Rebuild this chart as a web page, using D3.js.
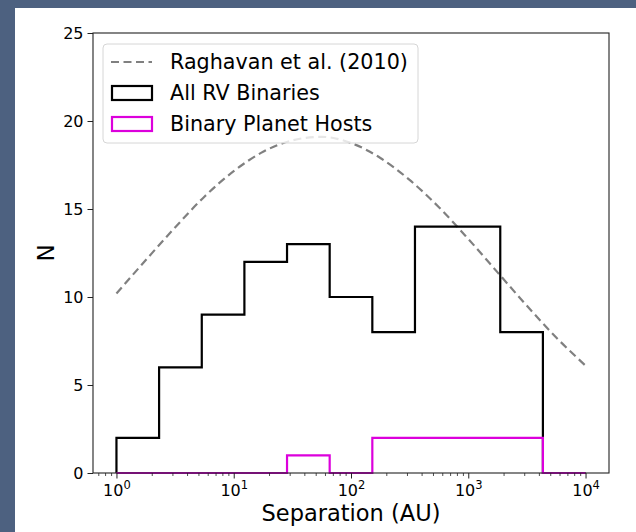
<!DOCTYPE html>
<html>
<head>
<meta charset="utf-8">
<script src="https://cdn.jsdelivr.net/npm/d3@7"></script>
<style>
  html, body { margin: 0; padding: 0; background: #4d6180; }
  svg { display: block; }
  text { font-family: "DejaVu Sans", sans-serif; fill: #000; }
</style>
</head>
<body>
<svg id="chart" width="636" height="532"></svg>
<script>
// Histogram bin edges in AU (log-spaced, 11 bins from 1 to 10^4 AU)
const sepEdges = [1, 2.31, 5.34, 12.33, 28.48, 65.79, 152.0, 351.1, 811.1, 1874, 4329, 10000];
// Counts per bin
const rvCounts = [2, 6, 9, 12, 13, 10, 8, 14, 14, 8, 0];
const hostCounts = [0, 0, 0, 0, 1, 0, 2, 2, 2, 2, 0];
// Raghavan et al. (2010) separation distribution, scaled
const raghavanSep = [1, 1.78, 3.16, 5.62, 10, 17.8, 31.6, 56.2, 100, 178, 316, 562, 1000, 1778, 3162, 5623, 10000];
const raghavanN = [10.2, 12.1, 13.95, 15.7, 17.15, 18.25, 18.9, 19.1, 18.75, 17.9, 16.65, 15.1, 13.3, 11.4, 9.5, 7.7, 6.1];
// Axis ticks
const yTicks = [0, 5, 10, 15, 20, 25];
const xTickExponents = [0, 1, 2, 3, 4];
const legendLabels = ["Raghavan et al. (2010)", "All RV Binaries", "Binary Planet Hosts"];

const colors = { rv: "#000000", host: "#dc00dc", curve: "#808080" };

const svg = d3.select("#chart");

// white figure area
svg.append("rect").attr("x", 15).attr("y", 8).attr("width", 621).attr("height", 524).attr("fill", "#ffffff");

const plot = { left: 93, right: 609, top: 33, bottom: 473 };

const x = d3.scaleLog().domain([Math.pow(10, -0.2), Math.pow(10, 4.2)]).range([plot.left, plot.right]);
const y = d3.scaleLinear().domain([0, 25]).range([plot.bottom, plot.top]);

// minor ticks on the log axis
const minorTicks = [];
for (let k = -1; k <= 4; k++) {
  for (let m = 2; m <= 9; m++) {
    const v = m * Math.pow(10, k);
    if (v >= x.domain()[0] && v <= x.domain()[1]) minorTicks.push(v);
  }
}

// dashed reference curve
const curveLine = d3.line()
  .x((d, i) => x(raghavanSep[i]))
  .y(d => y(d))
  .curve(d3.curveMonotoneX);

svg.append("path")
  .attr("d", curveLine(raghavanN))
  .attr("fill", "none")
  .attr("stroke", colors.curve)
  .attr("stroke-width", 2.2)
  .attr("stroke-dasharray", "8,4.5");

// step outline for a histogram
function stepPoints(edges, counts) {
  const pts = [[edges[0], 0]];
  counts.forEach((c, i) => {
    pts.push([edges[i], c]);
    pts.push([edges[i + 1], c]);
  });
  pts.push([edges[edges.length - 1], 0]);
  return pts;
}
const stepLine = d3.line().x(d => x(d[0])).y(d => y(d[1]));

svg.append("path")
  .attr("d", stepLine(stepPoints(sepEdges, rvCounts)))
  .attr("fill", "none")
  .attr("stroke", colors.rv)
  .attr("stroke-width", 2.2)
  .attr("stroke-linejoin", "miter");

svg.append("path")
  .attr("d", stepLine(stepPoints(sepEdges, hostCounts)))
  .attr("fill", "none")
  .attr("stroke", colors.host)
  .attr("stroke-width", 2.2)
  .attr("stroke-linejoin", "miter");

// axes
const yAxis = svg.append("g")
  .attr("transform", `translate(${plot.left},0)`)
  .call(d3.axisLeft(y).tickValues(yTicks).tickSize(5.5).tickPadding(4).tickFormat(d3.format("d")));
yAxis.select(".domain").remove();
yAxis.selectAll(".tick line").attr("stroke", "#222").attr("stroke-width", 1);
yAxis.selectAll(".tick text").style("font-size", "16px").style("font-family", "DejaVu Sans");

const xMinor = svg.append("g")
  .attr("transform", `translate(0,${plot.bottom})`)
  .call(d3.axisBottom(x).tickValues(minorTicks).tickSize(3).tickFormat(() => ""));
xMinor.select(".domain").remove();
xMinor.selectAll(".tick line").attr("stroke", "#222").attr("stroke-width", 0.8);

const xAxis = svg.append("g")
  .attr("transform", `translate(0,${plot.bottom})`)
  .call(d3.axisBottom(x).tickValues(xTickExponents.map(e => Math.pow(10, e))).tickSize(5.5).tickFormat(() => ""));
xAxis.select(".domain").remove();
xAxis.selectAll(".tick line").attr("stroke", "#222").attr("stroke-width", 1);
xAxis.selectAll(".tick").each(function(d, i) {
  const t = d3.select(this).append("text")
    .attr("y", 23)
    .attr("text-anchor", "middle")
    .style("font-size", "16px");
  t.append("tspan").text("10");
  t.append("tspan").attr("dy", -7).style("font-size", "11.5px").text(String(xTickExponents[i]));
});

// frame
svg.append("rect")
  .attr("x", plot.left).attr("y", plot.top)
  .attr("width", plot.right - plot.left).attr("height", plot.bottom - plot.top)
  .attr("fill", "none").attr("stroke", "#222").attr("stroke-width", 1.1);

// axis labels
svg.append("text")
  .attr("x", (plot.left + plot.right) / 2).attr("y", 521)
  .attr("text-anchor", "middle")
  .style("font-size", "22.5px")
  .text("Separation (AU)");

svg.append("text")
  .attr("transform", `translate(54,${(plot.top + plot.bottom) / 2}) rotate(-90)`)
  .attr("text-anchor", "middle")
  .style("font-size", "23px")
  .text("N");

// legend
const lg = svg.append("g");
lg.append("rect")
  .attr("x", 103).attr("y", 44).attr("width", 315).attr("height", 99).attr("rx", 4)
  .attr("fill", "#ffffff").attr("fill-opacity", 0.8)
  .attr("stroke", "#d6d6d6").attr("stroke-width", 1);

const rowY = [62, 93, 124];
lg.append("line")
  .attr("x1", 111).attr("x2", 152).attr("y1", rowY[0]).attr("y2", rowY[0])
  .attr("stroke", colors.curve).attr("stroke-width", 2.2).attr("stroke-dasharray", "8,4.5");
lg.append("rect")
  .attr("x", 112).attr("y", rowY[1] - 7).attr("width", 40).attr("height", 14)
  .attr("fill", "none").attr("stroke", colors.rv).attr("stroke-width", 2.2);
lg.append("rect")
  .attr("x", 112).attr("y", rowY[2] - 7).attr("width", 40).attr("height", 14)
  .attr("fill", "none").attr("stroke", colors.host).attr("stroke-width", 2.2);

legendLabels.forEach((lab, i) => {
  lg.append("text")
    .attr("x", 170).attr("y", rowY[i] + 7)
    .style("font-size", "20.7px")
    .text(lab);
});
</script>
</body>
</html>
